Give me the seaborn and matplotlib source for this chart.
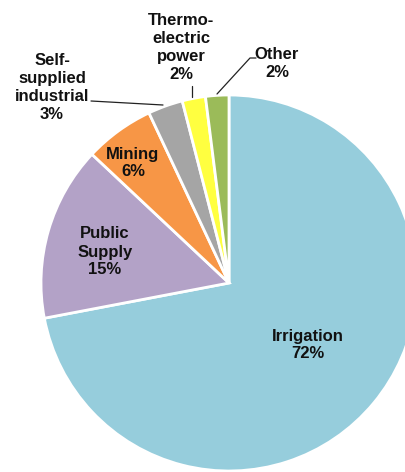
import matplotlib
matplotlib.use("Agg")
import matplotlib.pyplot as plt
import seaborn as sns

# Water withdrawals by use category (share of total, %)
categories = ["Irrigation", "Public Supply", "Mining", "Self-supplied industrial",
              "Thermo-electric power", "Other"]
shares = [72, 15, 6, 3, 2, 2]
label_texts = ["Irrigation\n72%", "Public\nSupply\n15%", "Mining\n6%",
               "Self-\nsupplied\nindustrial\n3%", "Thermo-\nelectric\npower\n2%", "Other\n2%"]
colors = ["#96CDDC", "#B3A2C7", "#F79646", "#A5A5A5", "#FFFF40", "#9BBB59"]

sns.set_theme(style="white")
plt.rcParams["font.family"] = ["Liberation Sans", "DejaVu Sans"]

W, H = 406, 472
fig = plt.figure(figsize=(W / 100, H / 100), dpi=100)
ax = fig.add_axes([0, 0, 1, 1])
ax.set_xlim(0, W)
ax.set_ylim(0, H)
ax.set_aspect("equal")
ax.axis("off")

wedges, _ = ax.pie(shares, colors=colors, startangle=90, counterclock=False,
                   center=(229, H - 283), radius=188,
                   wedgeprops=dict(edgecolor="white", linewidth=2))
ax.set_xlim(0, W)
ax.set_ylim(0, H)

txt = dict(ha="center", va="center", fontsize=12, fontweight="bold",
           color="#111111", linespacing=1.25)

# labels inside the larger wedges
ax.text(308, H - 345, label_texts[0], **txt)
ax.text(105, H - 252, label_texts[1], **txt)
ax.text(133, H - 163, label_texts[2], **txt)

# labels outside the small wedges, with leader lines
ax.text(52, H - 87, label_texts[3], **txt)
ax.text(181, H - 47, label_texts[4], **txt)
ax.text(277, H - 63, label_texts[5], **txt)

lc = dict(color="#222222", linewidth=0.9)
ax.plot([91, 163], [H - 101, H - 105], **lc)
ax.plot([192, 192], [H - 86, H - 97], **lc)
ax.plot([256, 250, 217], [H - 58, H - 58, H - 94], **lc)

fig.savefig("out.png", dpi=100)
